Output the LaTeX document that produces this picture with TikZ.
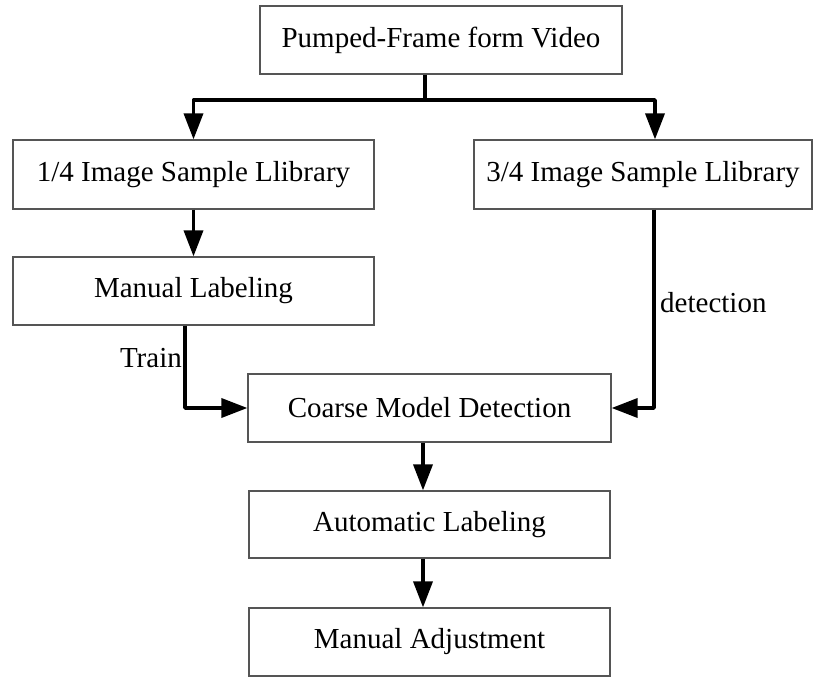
\documentclass[tikz,border=0pt]{standalone}
\usepackage{fontspec}
\setmainfont{Liberation Serif}
\usetikzlibrary{arrows.meta}
\definecolor{boxgray}{RGB}{85,85,85}
\begin{document}
\begin{tikzpicture}[x=1pt,y=-1pt,
 box/.style={draw=boxgray, line width=1.2pt, inner sep=0pt, fill=white, font=\fontsize{29}{34}\selectfont},
 conn/.style={line width=3.5pt, line join=round, -{Triangle[width=19pt,length=26pt]}},
 plain/.style={line width=3.5pt, line join=round},
 lab/.style={inner sep=0pt, font=\fontsize{29}{34}\selectfont}]
\useasboundingbox (0,0) rectangle (823,677);
\node[box, minimum width=362pt, minimum height=68pt] (top) at (441,40) {Pumped-Frame form Video};
\node[box, minimum width=361pt, minimum height=69pt] (lib1) at (193.5,174.5) {1/4 Image Sample Llibrary};
\node[box, minimum width=338pt, minimum height=69pt] (lib3) at (643,174.5) {3/4 Image Sample Llibrary};
\node[box, minimum width=361pt, minimum height=68pt] (man) at (193.5,291) {Manual Labeling};
\node[box, minimum width=363pt, minimum height=68pt] (coarse) at (429.5,408) {Coarse Model Detection};
\node[box, minimum width=361pt, minimum height=67pt] (auto) at (429.5,524.5) {Automatic Labeling};
\node[box, minimum width=361pt, minimum height=68pt] (adj) at (429.5,642) {Manual Adjustment};
\coordinate (split) at (425,100);
\draw[plain] ([xshift=-16pt]top.south) -- (split);
\draw[conn] (split) -| (lib1.north);
\draw[conn] (split) -| ([xshift=12pt]lib3.north);
\draw[conn] (lib1.south) -- (man.north);
\draw[conn] ([xshift=-8.5pt]man.south) |- (coarse.west);
\draw[conn] ([xshift=11pt]lib3.south) |- (coarse.east);
\draw[conn] ([xshift=-6.5pt]coarse.south) -- ([xshift=-6.5pt]auto.north);
\draw[conn] ([xshift=-6.5pt]auto.south) -- ([xshift=-6.5pt]adj.north);
\node[lab, anchor=base east] (train) at (182,367) {Train};
\node[lab, anchor=base west] (det) at (660,312) {detection};
\end{tikzpicture}
\end{document}
